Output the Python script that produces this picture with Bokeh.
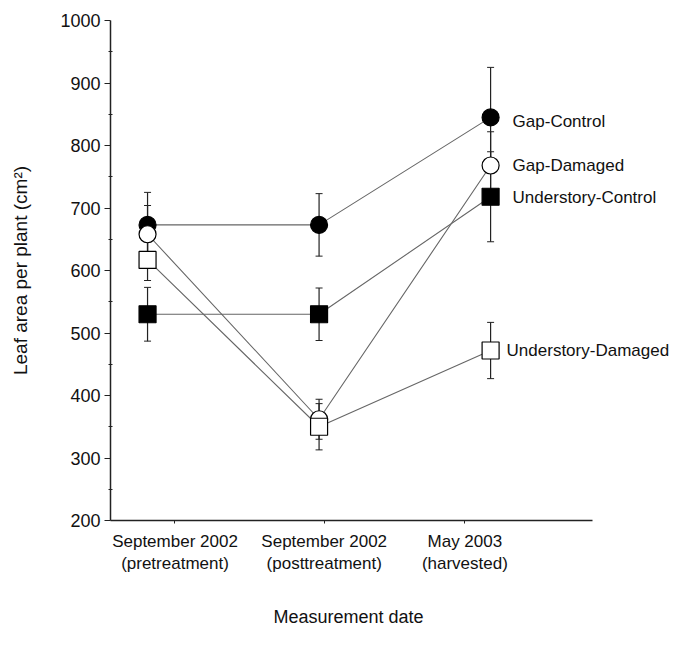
from bokeh.plotting import figure
from bokeh.models import Range1d, FixedTicker, ColumnDataSource, Whisker, TeeHead, Title
from bokeh.core.properties import value
from bokeh.embed import file_html
from bokeh.resources import INLINE

# ---- data ----
categories = ["September 2002\n(pretreatment)", "September 2002\n(posttreatment)", "May 2003\n(harvested)"]
cat_pos = [1, 2, 3]
label_tick_pos = [1.16, 2.03, 2.85]

gap_control = [673, 673, 845]
gap_control_err = [52, 50, 80]
gap_damaged = [658, 362, 768]
gap_damaged_err = [46, 32, 54]
und_control = [530, 530, 718]
und_control_err = [43, 42, 72]
und_damaged = [617, 350, 472]
und_damaged_err = [33, 37, 45]

series_names = ["Gap-Control", "Gap-Damaged", "Understory-Control", "Understory-Damaged"]
yticks = [200, 300, 400, 500, 600, 700, 800, 900, 1000]
x_title = "Measurement date"

FONT = "Liberation Sans"

p = figure(width=680, height=654, output_backend="svg", toolbar_location=None,
           x_range=Range1d(0.784, 4.078), y_range=Range1d(200, 1000),
           min_border_left=110, min_border_right=5, min_border_top=20, min_border_bottom=134)
p.outline_line_color = None
p.xgrid.visible = False
p.ygrid.visible = False
p.background_fill_color = "white"
p.border_fill_color = "white"

series = [
    (gap_control, gap_control_err, "circle", "black"),
    (gap_damaged, gap_damaged_err, "circle", "white"),
    (und_control, und_control_err, "square", "black"),
    (und_damaged, und_damaged_err, "square", "white"),
]

# connecting lines
for vals, errs, mk, fill in series:
    p.line(cat_pos, vals, line_color="#666666", line_width=1.1)

# error bars
for vals, errs, mk, fill in series:
    src = ColumnDataSource(dict(x=cat_pos,
                                upper=[v + e for v, e in zip(vals, errs)],
                                lower=[v - e for v, e in zip(vals, errs)]))
    w = Whisker(source=src, base="x", upper="upper", lower="lower", dimension="height",
                line_color="#222222", line_width=1.2,
                upper_head=TeeHead(size=7, line_color="#222222", line_width=1),
                lower_head=TeeHead(size=7, line_color="#222222", line_width=1))
    p.add_layout(w)

# markers
for vals, errs, mk, fill in series:
    p.scatter(cat_pos, vals, marker=mk, size=17, fill_color=fill,
              line_color="black", line_width=1.2)

# series labels at the last point
last_vals = [s[0][-1] for s in series]
p.text(x=[cat_pos[-1]] * 4, y=last_vals, text=series_names,
       x_offset=[22, 22, 22, 16], y_offset=[4, 0, 1, 0],
       text_font=value(FONT), text_font_size="17px", text_baseline="middle",
       text_align="left", text_color="#111111")

# axes
p.yaxis.ticker = FixedTicker(ticks=yticks, minor_ticks=[250, 350, 450, 550, 650, 750, 850, 950])
p.yaxis.axis_label = "Leaf area per plant (cm\u00b2)"
p.yaxis.axis_label_text_font = FONT
p.yaxis.axis_label_text_font_size = "19px"
p.yaxis.axis_label_text_font_style = "normal"
p.yaxis.axis_label_standoff = 26
p.yaxis.major_label_text_font = FONT
p.yaxis.major_label_text_font_size = "18px"
p.yaxis.major_tick_out = 6
p.yaxis.major_tick_in = 0
p.yaxis.minor_tick_out = 2
p.yaxis.minor_tick_in = 2
p.yaxis.major_label_standoff = 4

p.xaxis.bounds = (0.784, 3.595)
p.xaxis.ticker = FixedTicker(ticks=label_tick_pos, minor_ticks=[])
p.xaxis.major_label_overrides = {t: c for t, c in zip(label_tick_pos, categories)}
p.xaxis.major_label_text_font = FONT
p.xaxis.major_label_text_font_size = "17px"
p.xaxis.major_tick_out = 3
p.xaxis.major_tick_in = 0
p.xaxis.minor_tick_out = 0
p.xaxis.minor_tick_in = 0
p.xaxis.major_label_standoff = 8

for ax in (p.xaxis, p.yaxis):
    ax.axis_line_color = "#222222"
    ax.axis_line_width = 1.5
    ax.major_tick_line_color = "#222222"
    ax.minor_tick_line_color = "#222222"
    ax.major_label_text_color = "#111111"
    ax.axis_label_text_color = "#111111"

# x-axis title placed under the bounded axis (centred on the axis, not the frame)
xt = Title(text=x_title, align="left", offset=163, standoff=56,
           text_font=FONT, text_font_size="18px", text_font_style="normal",
           text_color="#111111")
p.add_layout(xt, "below")

open("out.html", "w").write(file_html(p, INLINE))
